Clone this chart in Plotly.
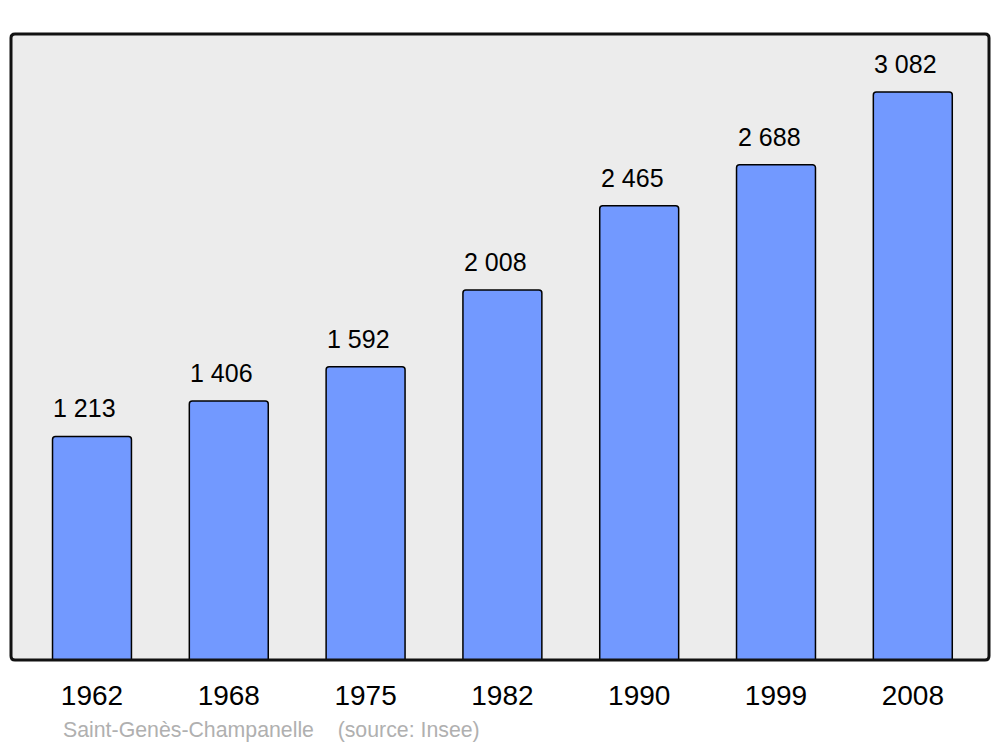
import plotly.graph_objects as go

years = ["1962", "1968", "1975", "1982", "1990", "1999", "2008"]
population = [1213, 1406, 1592, 2008, 2465, 2688, 3082]
value_labels = ["1 213", "1 406", "1 592", "2 008", "2 465", "2 688", "3 082"]
footer = "Saint-Genès-Champanelle\u00a0\u00a0\u00a0\u00a0(source: Insee)"

# page body has an 8px default margin; compensate so plot lands at 11..989 x 34..660
OFF = 8
W, H = 1000 - OFF, 747 - OFF
pw, ph = 978, 626
ml, mt = 11 - OFF, 34 - OFF
mr = W - ml - pw
mb = H - mt - ph

FONT = "Liberation Sans, Arial"

fig = go.Figure()
fig.add_trace(go.Bar(
    x=list(range(len(years))), y=population,
    width=0.577,
    marker=dict(color="#7299ff", line=dict(color="#000000", width=1.5), cornerradius=3),
    hoverinfo="skip",
))

for i, (v, t) in enumerate(zip(population, value_labels)):
    fig.add_annotation(x=i, y=v, text=t, showarrow=False, xanchor="center",
                       yanchor="bottom", yshift=12, xshift=-7,
                       font=dict(family=FONT, size=25, color="#000000"))

fig.add_annotation(xref="paper", yref="paper", x=(61 - 11) / pw, y=(660 - 730) / ph,
                   xanchor="left", yanchor="middle", text=footer, showarrow=False,
                   font=dict(family=FONT, size=21.3, color="#b0b0b0"))

# rounded frame
rx, ry = 4 / pw, 4 / ph
path = (f"M {rx},0 L {1-rx},0 Q 1,0 1,{ry} L 1,{1-ry} Q 1,1 {1-rx},1 "
        f"L {rx},1 Q 0,1 0,{1-ry} L 0,{ry} Q 0,0 {rx},0 Z")
fig.add_shape(type="path", xref="paper", yref="paper", path=path,
              line=dict(color="#111111", width=3), layer="above")

fig.update_layout(
    width=W, height=H,
    margin=dict(l=ml, r=mr, t=mt, b=mb, autoexpand=False),
    paper_bgcolor="#ffffff", plot_bgcolor="#ececec",
    showlegend=False,
    xaxis=dict(range=[-0.592, 6.557], tickmode="array", tickvals=list(range(len(years))),
               ticktext=years, showgrid=False, zeroline=False, showline=False,
               ticks="", ticklabelstandoff=16,
               tickfont=dict(family=FONT, size=28, color="#000000")),
    yaxis=dict(range=[0, 3397], showgrid=False, zeroline=False, showline=False,
               showticklabels=False, ticks=""),
)

fig.write_html("out.html")
